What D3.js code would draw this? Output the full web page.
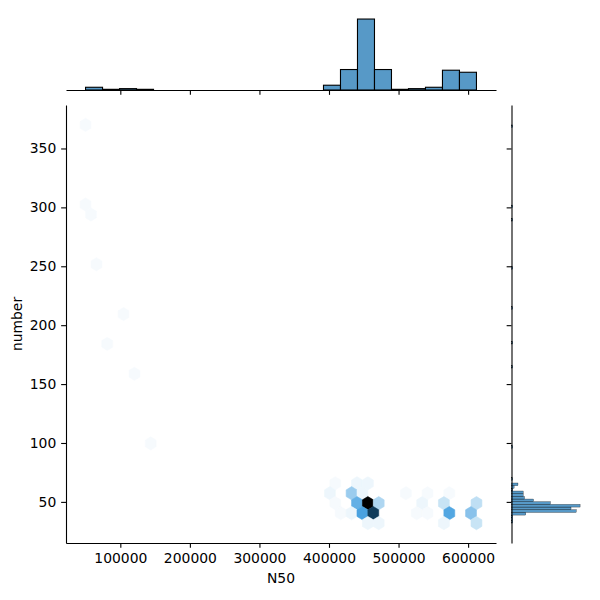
<!DOCTYPE html>
<html><head><meta charset="utf-8">
<script src="https://cdn.jsdelivr.net/npm/d3@7"></script>
<style>
body{margin:0;background:#fff}
text{font-family:"DejaVu Sans",sans-serif;fill:#000}
</style>
</head><body>
<svg id="c" width="600" height="600"></svg>
<script>
// ---------------- data ----------------
const xTicks = [100000, 200000, 300000, 400000, 500000, 600000];
const yTicks = [50, 100, 150, 200, 250, 300, 350];

// data extent of the two variables
const n50Range = [50000, 612000];
const numberRange = [32, 370];
const hexGridSize = [36, 20];   // hexbin cells across x / y

// hexbin cells: centre (N50, number) and point count
const hexN50 = [50000, 50000, 57806, 65611, 104639, 81222, 120250, 143666,
  409053, 440275, 455886,
  401248, 432470, 448081, 510525, 541747, 572969,
  409053, 440275, 455886, 471497, 533941, 565163, 612000,
  416859, 432470, 448081, 463692, 526136, 541747, 572969, 604191,
  455886, 471497, 565163, 612000];
const hexNumber = [370, 302.4, 293.95, 251.7, 209.45, 184.1, 158.75, 99.6,
  65.8, 65.8, 65.8,
  57.35, 57.35, 57.35, 57.35, 57.35, 57.35,
  48.9, 48.9, 48.9, 48.9, 48.9, 48.9, 48.9,
  40.45, 40.45, 40.45, 40.45, 40.45, 40.45, 40.45, 40.45,
  32, 32, 32, 32];
const hexCount = [1, 1, 1, 1, 1, 1, 1, 1,
  1, 2, 2,
  2, 11, 2, 1, 1, 1,
  1, 17, 48, 9, 2, 6, 7,
  1, 2, 20, 38, 1, 1, 19, 13,
  2, 2, 2, 6];

// marginal histogram of N50 (23 equal bins over n50Range)
const n50Counts = [4, 1, 2, 1, 0, 0, 0, 0, 0, 0, 0, 0, 0, 0, 7, 30, 104, 30, 1, 2, 4, 29, 26];

// marginal histogram of number (149 equal bins over numberRange, non-empty ones)
const numberBinCount = 149;
const numberBins   = [0, 1, 2, 3, 4, 5, 6, 7, 8, 9, 10, 11, 12, 13, 14, 16, 28, 58, 67, 80, 95, 113, 118, 148];
const numberCounts = [1, 1, 1, 11, 50, 46, 53, 30, 17, 10, 9, 9, 1, 2, 5, 1, 1, 1, 1, 1, 1, 1, 1, 1];

// ---------------- layout ----------------
const main = {left: 66, right: 496, top: 105, bottom: 543};
const topM = {top: 15.5, bottom: 90};
const rightM = {left: 511.5, right: 583.5};
const C0 = "#1f77b4";
const FS = 13.9, TL = 4.86, TP = 4.86;

const svg = d3.select("#c");

const pad = (r) => { const s = r[1] - r[0]; return [r[0] - 0.05 * s, r[1] + 0.05 * s]; };
const x = d3.scaleLinear().domain(pad(n50Range)).range([main.left, main.right]);
const y = d3.scaleLinear().domain(pad(numberRange)).range([main.bottom, main.top]);

// ---------------- hexbin ----------------
const sx = (n50Range[1] - n50Range[0]) / hexGridSize[0];
const sy = (numberRange[1] - numberRange[0]) / hexGridSize[1];
const maxCount = d3.max(hexCount);
const base = d3.hsl(C0);
const stops = d3.range(12).map(i => d3.hsl(base.h, base.s, 1 - i / 11).formatHex());
const cmap = d3.scaleLinear().domain(d3.range(12).map(i => i / 11)).range(stops).interpolate(d3.interpolateRgb);

function hexPath(cx, cy) {
  const px = x(cx), py = y(cy);
  const hw = x(cx + sx / 2) - px;
  const h6 = y(cy) - y(cy + sy / 6);
  const h3 = y(cy) - y(cy + sy / 3);
  const pts = [[hw, h6], [hw, -h6], [0, -h3], [-hw, -h6], [-hw, h6], [0, h3]];
  return "M" + pts.map(p => (px + p[0]).toFixed(2) + "," + (py + p[1]).toFixed(2)).join("L") + "Z";
}
const hexData = hexN50.map((v, i) => ({n50: v, number: hexNumber[i], count: hexCount[i]}));
svg.append("g").selectAll("path").data(hexData).join("path")
  .attr("d", d => hexPath(d.n50, d.number))
  .attr("fill", d => cmap(d.count / maxCount))
  .attr("stroke", d => cmap(d.count / maxCount))
  .attr("stroke-width", 0.6);

// ---------------- main axes ----------------
function styleAxis(g) {
  g.selectAll(".domain").attr("stroke", "#000").attr("stroke-width", 1.1);
  g.selectAll(".tick line").attr("stroke", "#000").attr("stroke-width", 1.1);
  g.selectAll(".tick text").attr("font-size", FS).attr("font-family", "DejaVu Sans").attr("fill", "#000");
}
svg.append("g").attr("transform", `translate(0,${main.bottom})`)
  .call(d3.axisBottom(x).tickValues(xTicks).tickFormat(d3.format("d")).tickSize(TL).tickPadding(TP).tickSizeOuter(0))
  .call(styleAxis);
svg.append("g").attr("transform", `translate(${main.left},0)`)
  .call(d3.axisLeft(y).tickValues(yTicks).tickFormat(d3.format("d")).tickSize(TL).tickPadding(TP).tickSizeOuter(0))
  .call(styleAxis);

svg.append("text").attr("x", (main.left + main.right) / 2).attr("y", 582.8)
  .attr("text-anchor", "middle").attr("font-size", FS).text("N50");
svg.append("text").attr("transform", `translate(21.5,${(main.top + main.bottom) / 2}) rotate(-90)`)
  .attr("text-anchor", "middle").attr("font-size", FS).text("number");

// ---------------- top marginal ----------------
const n50W = (n50Range[1] - n50Range[0]) / n50Counts.length;
const n50Data = n50Counts.map((c, i) => ({x0: n50Range[0] + i * n50W, x1: n50Range[0] + (i + 1) * n50W, c}));
const yTop = d3.scaleLinear().domain([0, d3.max(n50Counts) * 1.05]).range([topM.bottom, topM.top]);
svg.append("g").selectAll("rect").data(n50Data.filter(d => d.c > 0)).join("rect")
  .attr("x", d => x(d.x0)).attr("width", d => x(d.x1) - x(d.x0))
  .attr("y", d => yTop(d.c)).attr("height", d => yTop(0) - yTop(d.c))
  .attr("fill", C0).attr("fill-opacity", 0.75)
  .attr("stroke", "#000").attr("stroke-width", 1.1);
svg.append("g").attr("transform", `translate(0,${topM.bottom})`)
  .call(d3.axisBottom(x).tickValues(xTicks).tickFormat("").tickSize(TL).tickSizeOuter(0))
  .call(styleAxis);

// ---------------- right marginal ----------------
const numW = (numberRange[1] - numberRange[0]) / numberBinCount;
const numData = numberBins.map((b, i) => ({y0: numberRange[0] + b * numW, y1: numberRange[0] + (b + 1) * numW, c: numberCounts[i]}));
const xRight = d3.scaleLinear().domain([0, d3.max(numberCounts) * 1.05]).range([rightM.left, rightM.right]);
svg.append("g").selectAll("rect").data(numData).join("rect")
  .attr("x", xRight(0)).attr("width", d => xRight(d.c) - xRight(0))
  .attr("y", d => y(d.y1)).attr("height", d => y(d.y0) - y(d.y1))
  .attr("fill", C0).attr("fill-opacity", 0.75)
  .attr("stroke", "#000").attr("stroke-width", 0.3);
svg.append("g").attr("transform", `translate(${rightM.left},0)`)
  .call(d3.axisLeft(y).tickValues(yTicks).tickFormat("").tickSize(TL).tickSizeOuter(0))
  .call(styleAxis);
</script>
</body></html>
